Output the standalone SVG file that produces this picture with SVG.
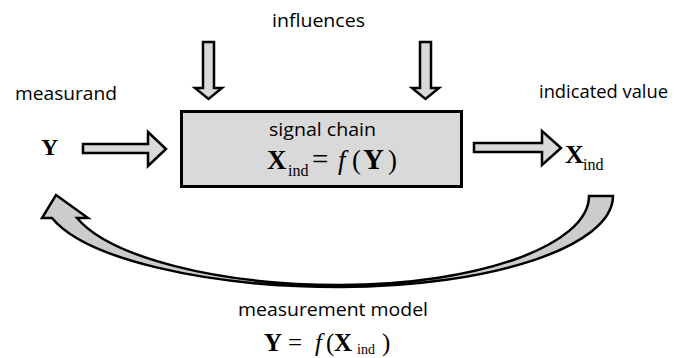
<svg xmlns="http://www.w3.org/2000/svg" width="678" height="358" viewBox="0 0 678 358">
<style>
.lbl{font-family:"Open Sans","Liberation Sans",sans-serif;font-size:18px;fill:#000}
.m{font-family:"Liberation Serif","Times New Roman",serif;fill:#000}
.b{font-weight:bold}
.i{font-style:italic}
.arr{fill:#d9d9d9;stroke:#000;stroke-width:2.5;stroke-linejoin:miter}
.box{fill:#d9d9d9;stroke:#000;stroke-width:3}
</style>
<rect width="678" height="358" fill="#fff"/>
<g id="connectors">
<polygon class="arr" points="83,144 148,144 148,132 166,149 148,166 148,153 83,153"/>
<polygon class="arr" points="474,143 542,143 542,131 561,148 542,165 542,152 474,152"/>
<polygon class="arr" points="203,42 214,42 214,88 222,88 208.5,99 195,88 203,88"/>
<polygon class="arr" points="420,42 431,42 431,88 439,88 425.5,99 412,88 420,88"/>
<path class="arr" style="fill:#cccccc" d="M 613 196 C 613 246.3 490.8 287 340 287 C 203.9 287 85.2 258.4 52 218 L 42 218 L 56 195 L 88 218 L 77 218 C 109.8 256.9 217.5 285 340 285 C 477.5 285 589 245.2 589 196 Z"/>
</g>
<g id="influences">
<text class="lbl" x="272" y="27" textLength="93" lengthAdjust="spacingAndGlyphs">influences</text>
</g>
<g id="measurand">
<text class="lbl" x="15" y="100" textLength="102" lengthAdjust="spacingAndGlyphs">measurand</text>
<text class="m b" x="41" y="155" font-size="24">Y</text>
</g>
<g id="signal-chain">
<rect class="box" x="181.5" y="111.5" width="280" height="75"/>
<text class="lbl" x="269" y="136" textLength="107" lengthAdjust="spacingAndGlyphs">signal chain</text>
<text class="m" y="169" font-size="27"><tspan class="b" x="267">X</tspan><tspan x="288" y="176" font-size="16">ind</tspan><tspan x="312" y="169" font-size="29">=</tspan><tspan class="i" x="338">f</tspan><tspan x="352">(</tspan><tspan class="b" x="363" font-size="29">Y</tspan><tspan x="388">)</tspan></text>
</g>
<g id="indicated-value">
<text class="lbl" x="539" y="98" textLength="129" lengthAdjust="spacingAndGlyphs">indicated value</text>
<text class="m" y="163" font-size="26"><tspan class="b" x="565">X</tspan><tspan x="583" y="170" font-size="16">ind</tspan></text>
</g>
<g id="measurement-model">
<text class="lbl" x="238" y="316" textLength="190" lengthAdjust="spacingAndGlyphs">measurement model</text>
<text class="m" y="351" font-size="25"><tspan class="b" x="264">Y</tspan><tspan x="288">=</tspan><tspan class="i" x="315">f</tspan><tspan x="326">(</tspan><tspan class="b" x="334">X</tspan><tspan x="357" y="354" font-size="14">ind</tspan><tspan x="382" y="351">)</tspan></text>
</g>
</svg>
